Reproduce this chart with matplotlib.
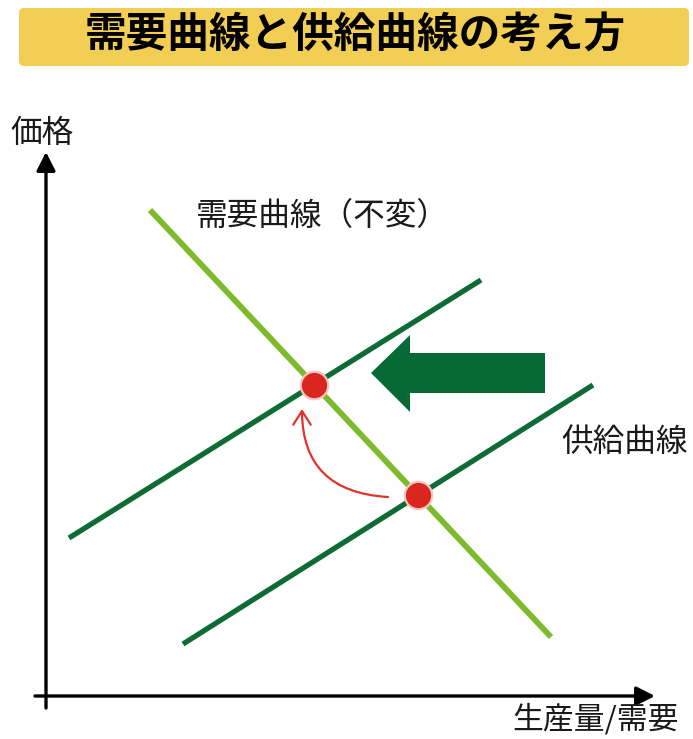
import matplotlib
matplotlib.use("Agg")
import matplotlib.pyplot as plt
from matplotlib.patches import FancyArrowPatch, FancyBboxPatch, Polygon
from matplotlib.path import Path
import numpy as np

plt.rcParams['font.family'] = ['Noto Sans CJK JP', 'DejaVu Sans']

# ---- data (schematic, in picture units) ----
title = "需要曲線と供給曲線の考え方"
y_label = "価格"
x_label = "生産量/需要"
demand_label = "需要曲線（不変）"
supply_label = "供給曲線"

demand_x = [150, 551]
demand_y = [210, 637]
supply1_x = [69, 481]
supply1_y = [538, 280]
supply2_x = [183, 593]
supply2_y = [644, 385]

def intersect(ax_, ay_, bx_, by_):
    p1 = np.array([ax_[0], ay_[0]], float); p2 = np.array([ax_[1], ay_[1]], float)
    q1 = np.array([bx_[0], by_[0]], float); q2 = np.array([bx_[1], by_[1]], float)
    d1 = p2 - p1; d2 = q2 - q1
    A = np.array([d1, -d2]).T
    t, _ = np.linalg.solve(A, q1 - p1)
    return p1 + t * d1

fig = plt.figure(figsize=(6.93, 7.39), dpi=100)
ax = fig.add_axes([0, 0, 1, 1])
ax.set_xlim(0, 693)
ax.set_ylim(739, 0)
ax.axis('off')

# title box
box = FancyBboxPatch((19, 8), 670, 58, boxstyle="round,pad=0,rounding_size=5",
                     facecolor='#F3CE55', edgecolor='none')
ax.add_patch(box)
ax.text(355, 36, title, ha='center', va='center', fontsize=30, fontweight='bold', color='black')

# axes arrows
ax_col = 'black'
a1 = FancyArrowPatch((46, 708), (46, 152), arrowstyle='-|>,head_length=0.75,head_width=0.38',
                     mutation_scale=15, lw=2.4, color=ax_col, shrinkA=0, shrinkB=0)
a2 = FancyArrowPatch((35, 696), (655, 696), arrowstyle='-|>,head_length=0.75,head_width=0.38',
                     mutation_scale=15, lw=2.4, color=ax_col, shrinkA=0, shrinkB=0)
ax.add_patch(a1); ax.add_patch(a2)

fs = 22.8
ax.text(42, 133, y_label, ha='center', va='center', fontsize=fs, color='#1a1a1a')
ax.text(596, 720, x_label, ha='center', va='center', fontsize=22.2, color='#1a1a1a')

# curves
ax.plot(demand_x, demand_y, color='#7DBB2C', lw=4.2, solid_capstyle='butt', zorder=3)
ax.plot(supply1_x, supply1_y, color='#0E6B35', lw=3.8, solid_capstyle='butt', zorder=3)
ax.plot(supply2_x, supply2_y, color='#0E6B35', lw=3.8, solid_capstyle='butt', zorder=3)

ax.text(322, 216, demand_label, ha='center', va='center', fontsize=fs, color='#1a1a1a')
ax.text(625, 442, supply_label, ha='center', va='center', fontsize=fs, color='#1a1a1a')

# equilibrium points
p_top = intersect(demand_x, demand_y, supply1_x, supply1_y)
p_bot = intersect(demand_x, demand_y, supply2_x, supply2_y)
ax.scatter([p_top[0], p_bot[0]], [p_top[1], p_bot[1]], s=390, color='#D9261E',
           edgecolors='#F2C6C2', linewidths=1.6, zorder=5)

# big shift arrow
arrow_pts = [(545, 353), (410, 353), (410, 335), (371, 373), (410, 412), (410, 393), (545, 393)]
ax.add_patch(Polygon(arrow_pts, closed=True, facecolor='#076A36', edgecolor='none', zorder=4))

# red curved arrow
path = Path([(388, 497), (302, 492), (302, 409)], [Path.MOVETO, Path.CURVE3, Path.CURVE3])
ra = FancyArrowPatch(path=path, arrowstyle='->,head_length=0.7,head_width=0.45',
                     mutation_scale=14, lw=1.6, color='#E0332B', zorder=4)
ax.add_patch(ra)

fig.savefig('out.png', dpi=100)
